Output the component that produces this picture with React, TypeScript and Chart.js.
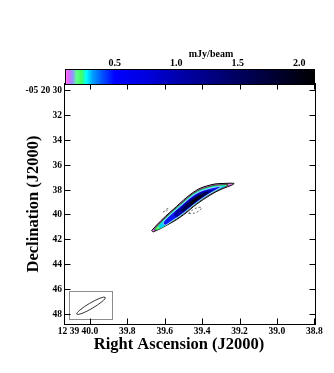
import React, { useEffect, useRef } from "react";
import { Chart, registerables } from "chart.js";
Chart.register(...registerables);

// ---- axes / ticks ----
const RA_TICKS = [40.0, 39.8, 39.6, 39.4, 39.2, 39.0, 38.8];
const DEC_TICKS = [30, 32, 34, 36, 38, 40, 42, 44, 46, 48];
const RA_MIN = 38.791;
const RA_MAX = 40.1385;
const DEC_MIN = 29.437;
const DEC_MAX = 48.884;

// ---- colour bar ----
const CB_TICKS = [0.5, 1.0, 1.5, 2.0];
const CB_MIN = 0.096;
const CB_MAX = 2.128;
const CMAP_VALUES = [0.096, 0.11, 0.13, 0.16, 0.19, 0.23, 0.27, 0.32, 0.4, 0.5, 0.75, 1.0, 1.5, 2.128];
const CMAP_COLORS = ["#ffffff", "#ff60ff", "#d070ff", "#9098ff", "#60ff90", "#40ff60", "#00ffff", "#00a0ff", "#0050ff", "#0000ff", "#0000e0", "#0000b0", "#000060", "#000000"];

// ---- contour levels (mJy/beam) and their polygons [RA sec, Dec arcsec] ----
const LEVELS = [0.1, 0.2, 0.3, 0.5, 1.0, 1.5, 2.0];
const LEVEL_FILLS = ["#f07ef0", "#48ff70", "#00d0ff", "#0818f4", "#0000a0", "#000050", "#000010"];
const LEVEL_LINES = ["#000000", "#000000", "rgba(0,0,0,0)", "#ffffff", "rgba(0,0,0,0)", "rgba(0,0,0,0)", "rgba(0,0,0,0)"];

const C_010 = [
  [39.670, 41.31], [39.643, 40.85], [39.598, 40.18], [39.554, 39.59], [39.518, 39.10],
  [39.482, 38.62], [39.447, 38.22], [39.411, 37.90], [39.375, 37.71], [39.331, 37.55],
  [39.288, 37.51], [39.245, 37.49], [39.229, 37.52],
  [39.242, 37.65], [39.287, 37.91], [39.331, 38.22], [39.375, 38.62], [39.411, 38.98],
  [39.447, 39.38], [39.482, 39.83], [39.518, 40.23], [39.554, 40.58], [39.589, 40.85],
  [39.625, 41.11], [39.661, 41.40],
];
const C_020 = [
  [39.657, 41.23], [39.641, 40.95], [39.598, 40.28], [39.556, 39.70], [39.518, 39.20],
  [39.481, 38.71], [39.449, 38.33], [39.411, 38.00], [39.374, 37.81], [39.331, 37.65],
  [39.288, 37.61], [39.262, 37.60],
  [39.262, 37.67], [39.288, 37.84], [39.331, 38.16], [39.374, 38.53], [39.411, 38.91],
  [39.449, 39.34], [39.481, 39.74], [39.518, 40.17], [39.556, 40.54], [39.598, 40.95],
  [39.641, 41.27],
];
const C_030 = [
  [39.633, 40.97], [39.625, 40.78], [39.598, 40.36], [39.556, 39.78], [39.518, 39.28],
  [39.481, 38.79], [39.449, 38.41], [39.411, 38.08], [39.374, 37.89], [39.331, 37.73],
  [39.288, 37.69], [39.272, 37.71],
  [39.288, 37.81], [39.331, 38.12], [39.374, 38.50], [39.411, 38.88], [39.449, 39.31],
  [39.481, 39.71], [39.518, 40.13], [39.556, 40.51], [39.598, 40.91], [39.625, 41.11],
];
const C_050 = [
  [39.609, 40.69], [39.598, 40.44], [39.556, 39.86], [39.518, 39.36], [39.481, 38.87],
  [39.449, 38.49], [39.411, 38.16], [39.374, 37.97], [39.331, 37.81], [39.299, 37.77],
  [39.331, 38.08], [39.374, 38.45], [39.411, 38.83], [39.449, 39.26], [39.481, 39.66],
  [39.518, 40.09], [39.556, 40.46], [39.598, 40.86],
];
const C_100 = [
  [39.550, 40.05], [39.540, 39.75], [39.518, 39.47], [39.481, 38.98], [39.449, 38.60],
  [39.411, 38.26], [39.374, 38.08], [39.339, 38.04],
  [39.374, 38.37], [39.411, 38.75], [39.449, 39.18], [39.481, 39.58], [39.518, 40.00],
  [39.540, 40.22],
];
const C_150 = [
  [39.513, 39.64], [39.486, 39.20], [39.454, 38.80], [39.417, 38.44], [39.379, 38.20],
  [39.363, 38.24], [39.385, 38.48], [39.417, 38.80], [39.454, 39.24], [39.486, 39.60],
  [39.507, 39.80],
];
const C_200 = [
  [39.470, 39.16], [39.449, 38.84], [39.422, 38.56], [39.395, 38.40], [39.406, 38.64],
  [39.433, 38.92], [39.454, 39.20],
];
const CONTOURS = [C_010, C_020, C_030, C_050, C_100, C_150, C_200];

// negative (dashed) contours
const NEG_A = [[39.607, 39.81], [39.591, 39.57], [39.580, 39.53], [39.591, 39.73]];
const NEG_B = [[39.473, 39.93], [39.452, 39.65], [39.425, 39.45], [39.403, 39.45], [39.414, 39.69], [39.441, 39.89]];

// ---- restoring beam ----
const BEAM_CENTER = [39.994, 47.34];
const BEAM_AXES = [2.65, 0.45]; // arcsec (major, minor)
const BEAM_PA = -59.5; // deg, east of north
const BEAM_BOX_RA = [40.112, 39.882];
const BEAM_BOX_DEC = [46.16, 48.41];

const SERIF = '"Liberation Serif", "Times New Roman", serif';

function closed(pts: number[][]) {
  const d = pts.map(([x, y]) => ({ x, y }));
  d.push({ x: pts[0][0], y: pts[0][1] });
  return d;
}

const framePlugin = {
  id: "frame",
  afterDatasetsDraw(chart: any) {
    const { ctx, chartArea: a, scales } = chart;
    const xs = scales.x;
    const ys = scales.y;
    ctx.save();
    ctx.strokeStyle = "#000";
    ctx.lineWidth = 1;
    const L = Math.round(a.left) + 0.5;
    const R = Math.round(a.right) - 0.5;
    const T = Math.round(a.top) + 0.5;
    const B = Math.round(a.bottom) - 0.5;

    // beam box + beam ellipse
    const bx0 = xs.getPixelForValue(BEAM_BOX_RA[0]);
    const bx1 = xs.getPixelForValue(BEAM_BOX_RA[1]);
    const by0 = ys.getPixelForValue(BEAM_BOX_DEC[0]);
    const by1 = ys.getPixelForValue(BEAM_BOX_DEC[1]);
    ctx.strokeStyle = "#8c8c8c";
    ctx.strokeRect(Math.round(bx0) + 0.5, Math.round(by0) + 0.5, Math.round(bx1 - bx0), Math.round(by1 - by0));
    const pxPerArc = Math.abs(ys.getPixelForValue(31) - ys.getPixelForValue(30));
    const cx = xs.getPixelForValue(BEAM_CENTER[0]);
    const cy = ys.getPixelForValue(BEAM_CENTER[1]);
    const th = (BEAM_PA * Math.PI) / 180;
    const rot = Math.atan2(-Math.cos(th), -Math.sin(th));
    ctx.strokeStyle = "#000";
    ctx.lineWidth = 0.8;
    ctx.beginPath();
    ctx.ellipse(cx, cy, (BEAM_AXES[0] / 2) * pxPerArc, (BEAM_AXES[1] / 2) * pxPerArc, rot, 0, Math.PI * 2);
    ctx.stroke();

    // frame
    ctx.lineWidth = 1;
    ctx.strokeStyle = "#000";
    ctx.strokeRect(L, T, R - L, B - T);

    // inward ticks
    ctx.beginPath();
    for (const v of RA_TICKS) {
      const p = Math.round(xs.getPixelForValue(v)) + 0.5;
      ctx.moveTo(p, B); ctx.lineTo(p, B - 6);
      ctx.moveTo(p, T); ctx.lineTo(p, T + 6);
    }
    for (const v of DEC_TICKS) {
      const p = Math.round(ys.getPixelForValue(v)) + 0.5;
      ctx.moveTo(L, p); ctx.lineTo(L + 6, p);
      ctx.moveTo(R, p); ctx.lineTo(R - 6, p);
    }
    ctx.stroke();

    // tick labels
    ctx.fillStyle = "#000";
    ctx.font = `bold 9.5px ${SERIF}`;
    ctx.textBaseline = "alphabetic";
    for (const v of RA_TICKS) {
      const p = xs.getPixelForValue(v);
      const s = v.toFixed(1);
      ctx.textAlign = "center";
      ctx.fillText(s, p, a.bottom + 9);
      if (v === RA_TICKS[0]) {
        ctx.textAlign = "right";
        ctx.fillText("12 39 ", p - ctx.measureText(s).width / 2, a.bottom + 9);
      }
    }
    ctx.textAlign = "right";
    ctx.textBaseline = "middle";
    for (const v of DEC_TICKS) {
      const p = ys.getPixelForValue(v);
      ctx.fillText(v === DEC_TICKS[0] ? "-05 20 " + v : String(v), a.left - 2, p + 0.5);
    }

    // axis titles
    ctx.font = `bold 16.5px ${SERIF}`;
    ctx.textAlign = "center";
    ctx.textBaseline = "alphabetic";
    ctx.fillText("Right Ascension (J2000)", (a.left + a.right) / 2 - 11, a.bottom + 24);
    ctx.save();
    ctx.translate(a.left - 26, (a.top + a.bottom) / 2);
    ctx.rotate(-Math.PI / 2);
    ctx.fillText("Declination (J2000)", 0, 0);
    ctx.restore();
    ctx.restore();
  },
};

const cbPlugin = {
  id: "cblabels",
  afterDraw(chart: any) {
    const { ctx, chartArea: a, scales } = chart;
    const xs = scales.x;
    ctx.save();
    ctx.fillStyle = "#000";
    ctx.font = `bold 10px ${SERIF}`;
    ctx.textAlign = "center";
    ctx.textBaseline = "alphabetic";
    for (const v of CB_TICKS) {
      ctx.fillText(v.toFixed(1), xs.getPixelForValue(v), a.top - 3);
    }
    ctx.fillText("mJy/beam", (a.left + a.right) / 2 + 21, a.top - 12);
    ctx.strokeStyle = "#000";
    ctx.lineWidth = 1;
    ctx.strokeRect(Math.round(a.left) + 0.5, Math.round(a.top) + 0.5, Math.round(a.right - a.left) - 1, Math.round(a.bottom - a.top));
    ctx.restore();
  },
};

export default function App() {
  const mainRef = useRef<HTMLCanvasElement>(null);
  const cbRef = useRef<HTMLCanvasElement>(null);

  useEffect(() => {
    const datasets: any[] = CONTOURS.map((pts, i) => ({
      label: `${LEVELS[i]} mJy/beam`,
      data: closed(pts),
      showLine: true,
      fill: "shape",
      backgroundColor: LEVEL_FILLS[i],
      borderColor: LEVEL_LINES[i],
      borderWidth: i === 0 ? 1 : 0.6,
      tension: 0.3,
      pointRadius: 0,
      order: 20 - i,
    }));
    [NEG_A, NEG_B].forEach((pts, k) => {
      datasets.push({
        label: `neg${k}`,
        data: closed(pts),
        showLine: true,
        fill: false,
        borderColor: "#444",
        borderWidth: 0.8,
        borderDash: [2, 2],
        tension: 0.35,
        pointRadius: 0,
        order: 1,
      });
    });

    const main = new Chart(mainRef.current!, {
      type: "scatter",
      data: { datasets },
      options: {
        animation: false,
        responsive: false,
        devicePixelRatio: 1,
        events: [],
        layout: { padding: { left: 64, right: 18, top: 83, bottom: 48 } },
        plugins: { legend: { display: false }, tooltip: { enabled: false } },
        scales: {
          x: { type: "linear", display: false, reverse: true, min: RA_MIN, max: RA_MAX },
          y: { type: "linear", display: false, reverse: true, min: DEC_MIN, max: DEC_MAX },
        },
      },
      plugins: [framePlugin],
    } as any);

    const cb = new Chart(cbRef.current!, {
      type: "bar",
      data: {
        labels: ["mJy/beam"],
        datasets: [
          {
            data: [[CB_MIN, CB_MAX]],
            barPercentage: 1,
            categoryPercentage: 1,
            borderWidth: 0,
            backgroundColor: (c: any) => {
              const ch = c.chart;
              if (!ch.chartArea) return "#0000ff";
              const xs = ch.scales.x;
              const x0 = xs.getPixelForValue(CB_MIN);
              const x1 = xs.getPixelForValue(CB_MAX);
              const g = ch.ctx.createLinearGradient(x0, 0, x1, 0);
              CMAP_VALUES.forEach((v, i) => g.addColorStop((v - CB_MIN) / (CB_MAX - CB_MIN), CMAP_COLORS[i]));
              return g;
            },
          },
        ],
      },
      options: {
        indexAxis: "y",
        animation: false,
        responsive: false,
        devicePixelRatio: 1,
        events: [],
        layout: { padding: { left: 65, right: 19, top: 69, bottom: 6 } },
        plugins: { legend: { display: false }, tooltip: { enabled: false } },
        scales: {
          x: { type: "linear", display: false, min: CB_MIN, max: CB_MAX },
          y: { type: "category", display: false },
        },
      },
      plugins: [cbPlugin],
    } as any);

    return () => {
      main.destroy();
      cb.destroy();
    };
  }, []);

  return (
    <div style={{ position: "fixed", left: 0, top: 0, width: 334, height: 373, background: "#fff" }}>
      <canvas ref={mainRef} width={334} height={373} style={{ position: "absolute", left: 0, top: 0, width: 334, height: 373 }} />
      <canvas ref={cbRef} width={334} height={90} style={{ position: "absolute", left: 0, top: 0, width: 334, height: 90 }} />
    </div>
  );
}
